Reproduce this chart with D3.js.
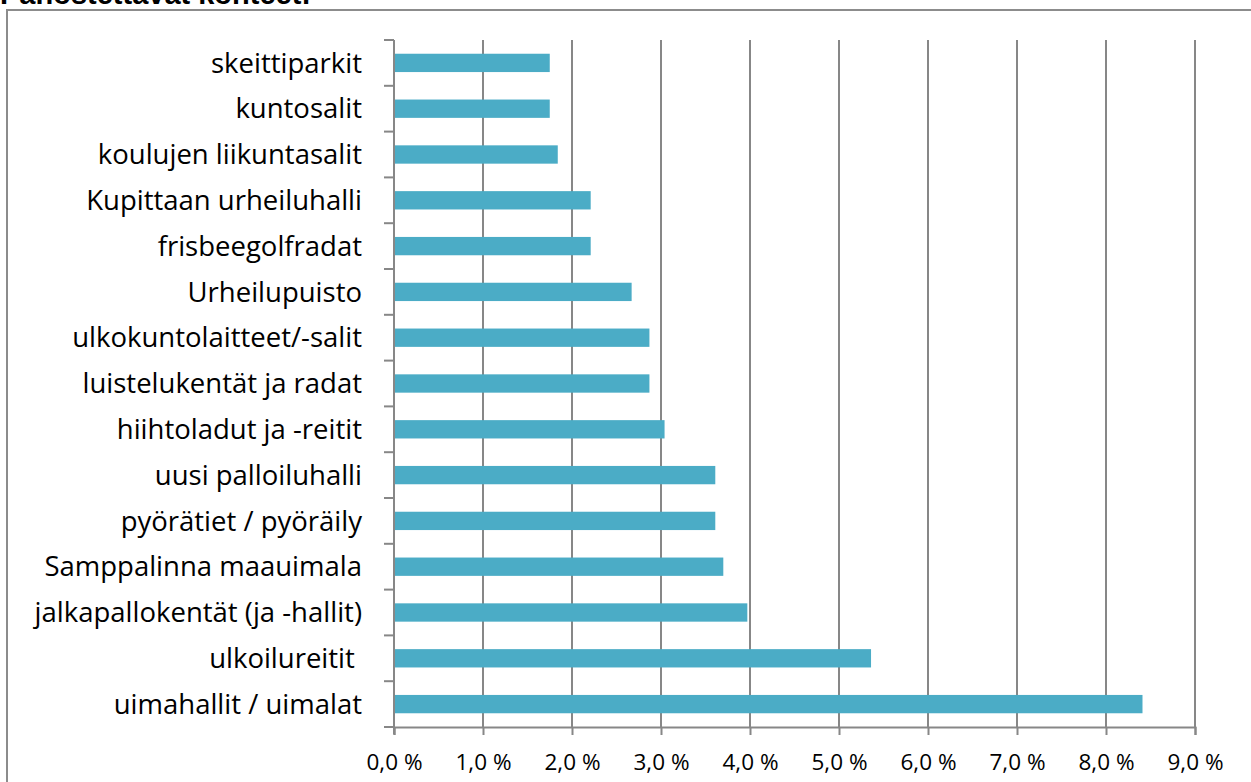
<!DOCTYPE html>
<html lang="fi">
<head>
    <meta charset="UTF-8">
    <title>Panostettavat kohteet</title>
    <script src="https://cdnjs.cloudflare.com/ajax/libs/d3/7.8.5/d3.min.js"></script>
    <style>
        body { margin: 0; background: #fff; overflow: hidden; }
        .cat-axis text { font-family: "Open Sans", "Noto Sans", sans-serif; font-size: 27.5px; fill: #000; }
        .val-axis text { font-family: "Open Sans", "Noto Sans", sans-serif; font-size: 22.5px; fill: #000; }
        .title { font-family: "Liberation Sans", Arial, sans-serif; font-weight: bold; font-size: 29px; }
    </style>
</head>
<body>
<div id="chart"></div>
<script>
    // categories from top to bottom, values in percent
    const categories = [
        "skeittiparkit", "kuntosalit", "koulujen liikuntasalit", "Kupittaan urheiluhalli",
        "frisbeegolfradat", "Urheilupuisto", "ulkokuntolaitteet/-salit", "luistelukentät ja radat",
        "hiihtoladut ja -reitit", "uusi palloiluhalli", "pyörätiet / pyöräily", "Samppalinna maauimala",
        "jalkapallokentät (ja -hallit)", "ulkoilureitit ", "uimahallit / uimalat"
    ];
    const values = [1.75, 1.75, 1.84, 2.21, 2.21, 2.67, 2.87, 2.87, 3.04, 3.61, 3.61, 3.70, 3.97, 5.36, 8.41];
    const ticks = [0, 1, 2, 3, 4, 5, 6, 7, 8, 9];

    const W = 1251, H = 782;
    const margin = {top: 40, right: 56, bottom: 55, left: 394};
    const width = W - margin.left - margin.right;
    const height = H - margin.top - margin.bottom;

    const svg = d3.select("#chart").append("svg")
        .attr("width", W).attr("height", H);

    // outer frame (runs off the right edge)
    svg.append("rect")
        .attr("x", 7).attr("y", 10)
        .attr("width", W + 20).attr("height", H + 20)
        .attr("fill", "none").attr("stroke", "#8c8c8c").attr("stroke-width", 2);

    svg.append("text").attr("class", "title")
        .attr("x", 0).attr("y", 4)
        .text("Panostettavat kohteet:");

    const g = svg.append("g").attr("transform", `translate(${margin.left},${margin.top})`);

    const x = d3.scaleLinear().domain([0, 9]).range([0, width]);
    const y = d3.scaleBand().domain(categories).range([0, height]).paddingInner(0.6).paddingOuter(0.3);

    // vertical gridlines
    g.selectAll(".grid").data(ticks.slice(1)).enter().append("line")
        .attr("x1", d => x(d)).attr("x2", d => x(d))
        .attr("y1", 0).attr("y2", height)
        .attr("stroke", "#878787").attr("stroke-width", 2);

    g.selectAll(".bar").data(values).enter().append("rect")
        .attr("x", 1)
        .attr("y", (d, i) => y(categories[i]))
        .attr("width", d => x(d) - 1)
        .attr("height", y.bandwidth())
        .attr("fill", "#4bacc6");

    // category axis: ticks sit at band boundaries
    const yAxis = g.append("g").attr("class", "cat-axis");
    const bounds = d3.range(categories.length + 1).map(i => i * height / categories.length);
    yAxis.append("line").attr("x1", 0).attr("x2", 0).attr("y1", 0).attr("y2", height + 7)
        .attr("stroke", "#878787").attr("stroke-width", 2);
    yAxis.selectAll(".tk").data(bounds).enter().append("line")
        .attr("x1", -10).attr("x2", 0).attr("y1", d => d).attr("y2", d => d)
        .attr("stroke", "#878787").attr("stroke-width", 2);
    yAxis.selectAll(".lbl").data(categories).enter().append("text")
        .attr("x", -32)
        .attr("y", d => y(d) + y.bandwidth() / 2)
        .attr("dy", "0.35em")
        .attr("text-anchor", "end")
        .style("white-space", "pre")
        .text(d => d);

    // value axis
    const xAxis = g.append("g").attr("class", "val-axis")
        .attr("transform", `translate(0,${height})`)
        .call(d3.axisBottom(x).tickValues(ticks).tickSize(8).tickPadding(19)
            .tickFormat(d => d3.format(".1f")(d).replace(".", ",") + "\u00a0%"));
    xAxis.select(".domain").attr("stroke", "#878787").attr("stroke-width", 2);
    xAxis.selectAll(".tick line").attr("stroke", "#878787").attr("stroke-width", 2);
    xAxis.selectAll(".tick text").attr("dy", "0.71em");
</script>
</body>
</html>
